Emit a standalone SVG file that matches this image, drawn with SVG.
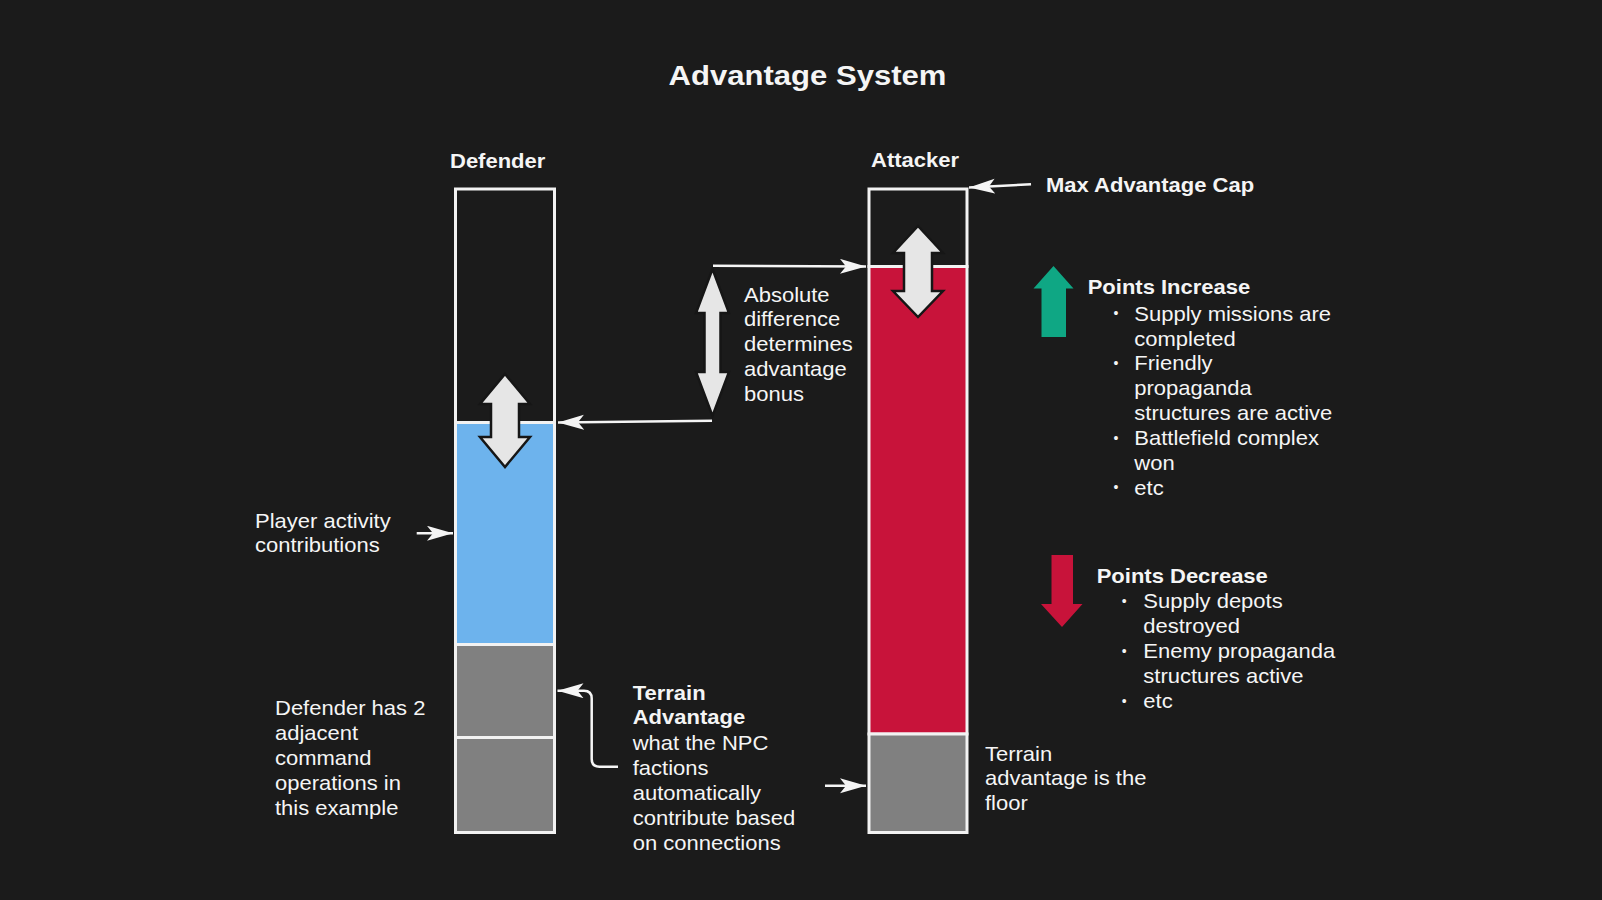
<svg xmlns="http://www.w3.org/2000/svg" width="1602" height="900" viewBox="0 0 1602 900">
<defs>
<style>
.t{font-family:"Liberation Sans",Arial,sans-serif;font-size:20px;fill:#f5f5f5}
.b{font-weight:bold}
.bul{font-family:"Liberation Sans",Arial,sans-serif;font-size:14px;fill:#f5f5f5}
.bar{stroke:#f2f2f2;stroke-width:3}
.conn{fill:none;stroke:#f5f5f5;stroke-width:2.5}
.dbl{fill:#e6e6e6;stroke:#161616;stroke-width:2.5;stroke-linejoin:miter}
</style>
<marker id="ah" markerUnits="userSpaceOnUse" markerWidth="30" markerHeight="16" refX="26" refY="7.5" orient="auto">
<path d="M0,0 L26,7.5 L0,15 L6,7.5 Z" fill="#f5f5f5"/>
</marker>
</defs>
<rect x="0" y="0" width="1602" height="900" fill="#1b1b1b"/>

<g id="title"><g transform="translate(807.5,85) scale(1.09,1)"><text class="t b" style="font-size:28.5px" text-anchor="middle" x="0" y="0">Advantage System</text></g></g>

<g id="defender">
<g transform="translate(450,167.5) scale(1.1,1)"><text class="t b" x="0" y="0">Defender</text></g>
<rect class="bar" x="455.5" y="189" width="99" height="233.5" fill="#1b1b1b"/>
<rect class="bar" x="455.5" y="422.5" width="99" height="222" fill="#6db3ed"/>
<rect class="bar" x="455.5" y="644.5" width="99" height="93" fill="#808080"/>
<rect class="bar" x="455.5" y="737.5" width="99" height="95" fill="#808080"/>
<polygon class="dbl" points="505,374 530,404 519,404 519,437 530,437 505,467 480,437 491,437 491,404 480,404"/>
</g>

<g id="attacker">
<g transform="translate(871,166.7) scale(1.1,1)"><text class="t b" x="0" y="0">Attacker</text></g>
<rect class="bar" x="869" y="189" width="98" height="77.5" fill="#1b1b1b"/>
<rect class="bar" x="869" y="266.5" width="98" height="467.5" fill="#c8133a"/>
<rect class="bar" x="869" y="734" width="98" height="98.5" fill="#808080"/>
<polygon class="dbl" points="918,226 943,253 932,253 932,291 943,291 918,317 893,291 904,291 904,253 893,253"/>
</g>

<g id="max-cap"><g transform="translate(1046,192) scale(1.1,1)"><text class="t b" x="0" y="0">Max Advantage Cap</text></g></g>

<g id="absolute-difference">
<polygon class="dbl" points="712.5,269 729,313 720.5,313 720.5,372 729,372 712.5,416 696,372 704.5,372 704.5,313 696,313"/>
<g transform="translate(744,301.7) scale(1.1,1)"><text class="t" x="0" y="0"><tspan x="0" dy="0">Absolute</tspan><tspan x="0" dy="24.8">difference</tspan><tspan x="0" dy="24.8">determines</tspan><tspan x="0" dy="24.8">advantage</tspan><tspan x="0" dy="24.8">bonus</tspan></text></g>
</g>

<g id="player-activity"><g transform="translate(255,528.3) scale(1.1,1)"><text class="t" x="0" y="0"><tspan x="0" dy="0">Player activity</tspan><tspan x="0" dy="24.2">contributions</tspan></text></g></g>

<g id="defender-note"><g transform="translate(275,715) scale(1.1,1)"><text class="t" x="0" y="0"><tspan x="0" dy="0">Defender has 2</tspan><tspan x="0" dy="25">adjacent</tspan><tspan x="0" dy="25">command</tspan><tspan x="0" dy="25">operations in</tspan><tspan x="0" dy="25">this example</tspan></text></g></g>

<g id="terrain-advantage"><g transform="translate(632.7,700) scale(1.1,1)"><text class="t" x="0" y="0"><tspan class="b" x="0" dy="0">Terrain</tspan><tspan class="b" x="0" dy="24.5">Advantage</tspan><tspan x="0" dy="25.5">what the NPC</tspan><tspan x="0" dy="25">factions</tspan><tspan x="0" dy="25">automatically</tspan><tspan x="0" dy="25">contribute based</tspan><tspan x="0" dy="25">on connections</tspan></text></g></g>

<g id="terrain-floor"><g transform="translate(985,760.7) scale(1.1,1)"><text class="t" x="0" y="0"><tspan x="0" dy="0">Terrain</tspan><tspan x="0" dy="24.7">advantage is the</tspan><tspan x="0" dy="24.7">floor</tspan></text></g></g>

<g id="points-increase">
<polygon fill="#0fa784" points="1053.5,266 1073.5,288.5 1066,288.5 1066,337 1041.5,337 1041.5,288.5 1033.5,288.5"/>
<g transform="translate(1087.7,294.3) scale(1.1,1)"><text class="t b" x="0" y="0">Points Increase</text></g>
<g transform="translate(1134.3,320.7) scale(1.1,1)"><text class="t" x="0" y="0"><tspan x="0" dy="0">Supply missions are</tspan><tspan x="0" dy="24.9">completed</tspan><tspan x="0" dy="24.9">Friendly</tspan><tspan x="0" dy="24.9">propaganda</tspan><tspan x="0" dy="24.9">structures are active</tspan><tspan x="0" dy="24.9">Battlefield complex</tspan><tspan x="0" dy="24.9">won</tspan><tspan x="0" dy="24.9">etc</tspan></text></g>
<text class="bul" text-anchor="middle" x="1116" y="318">•</text>
<text class="bul" text-anchor="middle" x="1116" y="367.8">•</text>
<text class="bul" text-anchor="middle" x="1116" y="442.5">•</text>
<text class="bul" text-anchor="middle" x="1116" y="492.3">•</text>
</g>

<g id="points-decrease">
<polygon fill="#c8133a" points="1051.5,555 1073,555 1073,604 1082.5,604 1062,627 1041,604 1051.5,604"/>
<g transform="translate(1096.7,583.3) scale(1.1,1)"><text class="t b" x="0" y="0">Points Decrease</text></g>
<g transform="translate(1143.3,608.3) scale(1.1,1)"><text class="t" x="0" y="0"><tspan x="0" dy="0">Supply depots</tspan><tspan x="0" dy="25">destroyed</tspan><tspan x="0" dy="25">Enemy propaganda</tspan><tspan x="0" dy="25">structures active</tspan><tspan x="0" dy="25">etc</tspan></text></g>
<text class="bul" text-anchor="middle" x="1124.3" y="605.6">•</text>
<text class="bul" text-anchor="middle" x="1124.3" y="655.6">•</text>
<text class="bul" text-anchor="middle" x="1124.3" y="705.6">•</text>
</g>

<g id="connectors">
<path class="conn" marker-end="url(#ah)" d="M713,265.7 L866,266.5"/>
<path class="conn" marker-end="url(#ah)" d="M712,420.7 L558,422.5"/>
<path class="conn" marker-end="url(#ah)" d="M1031,184.3 L969,187.5"/>
<path class="conn" marker-end="url(#ah)" d="M416.7,533.3 L453,533.3"/>
<path class="conn" marker-end="url(#ah)" d="M618,766.7 L599.5,766.7 Q591.7,766.7 591.7,759 L591.7,698.5 Q591.7,690.7 584,690.7 L557.5,690.7"/>
<path class="conn" marker-end="url(#ah)" d="M825,785.7 L866,785.7"/>
</g>
</svg>
